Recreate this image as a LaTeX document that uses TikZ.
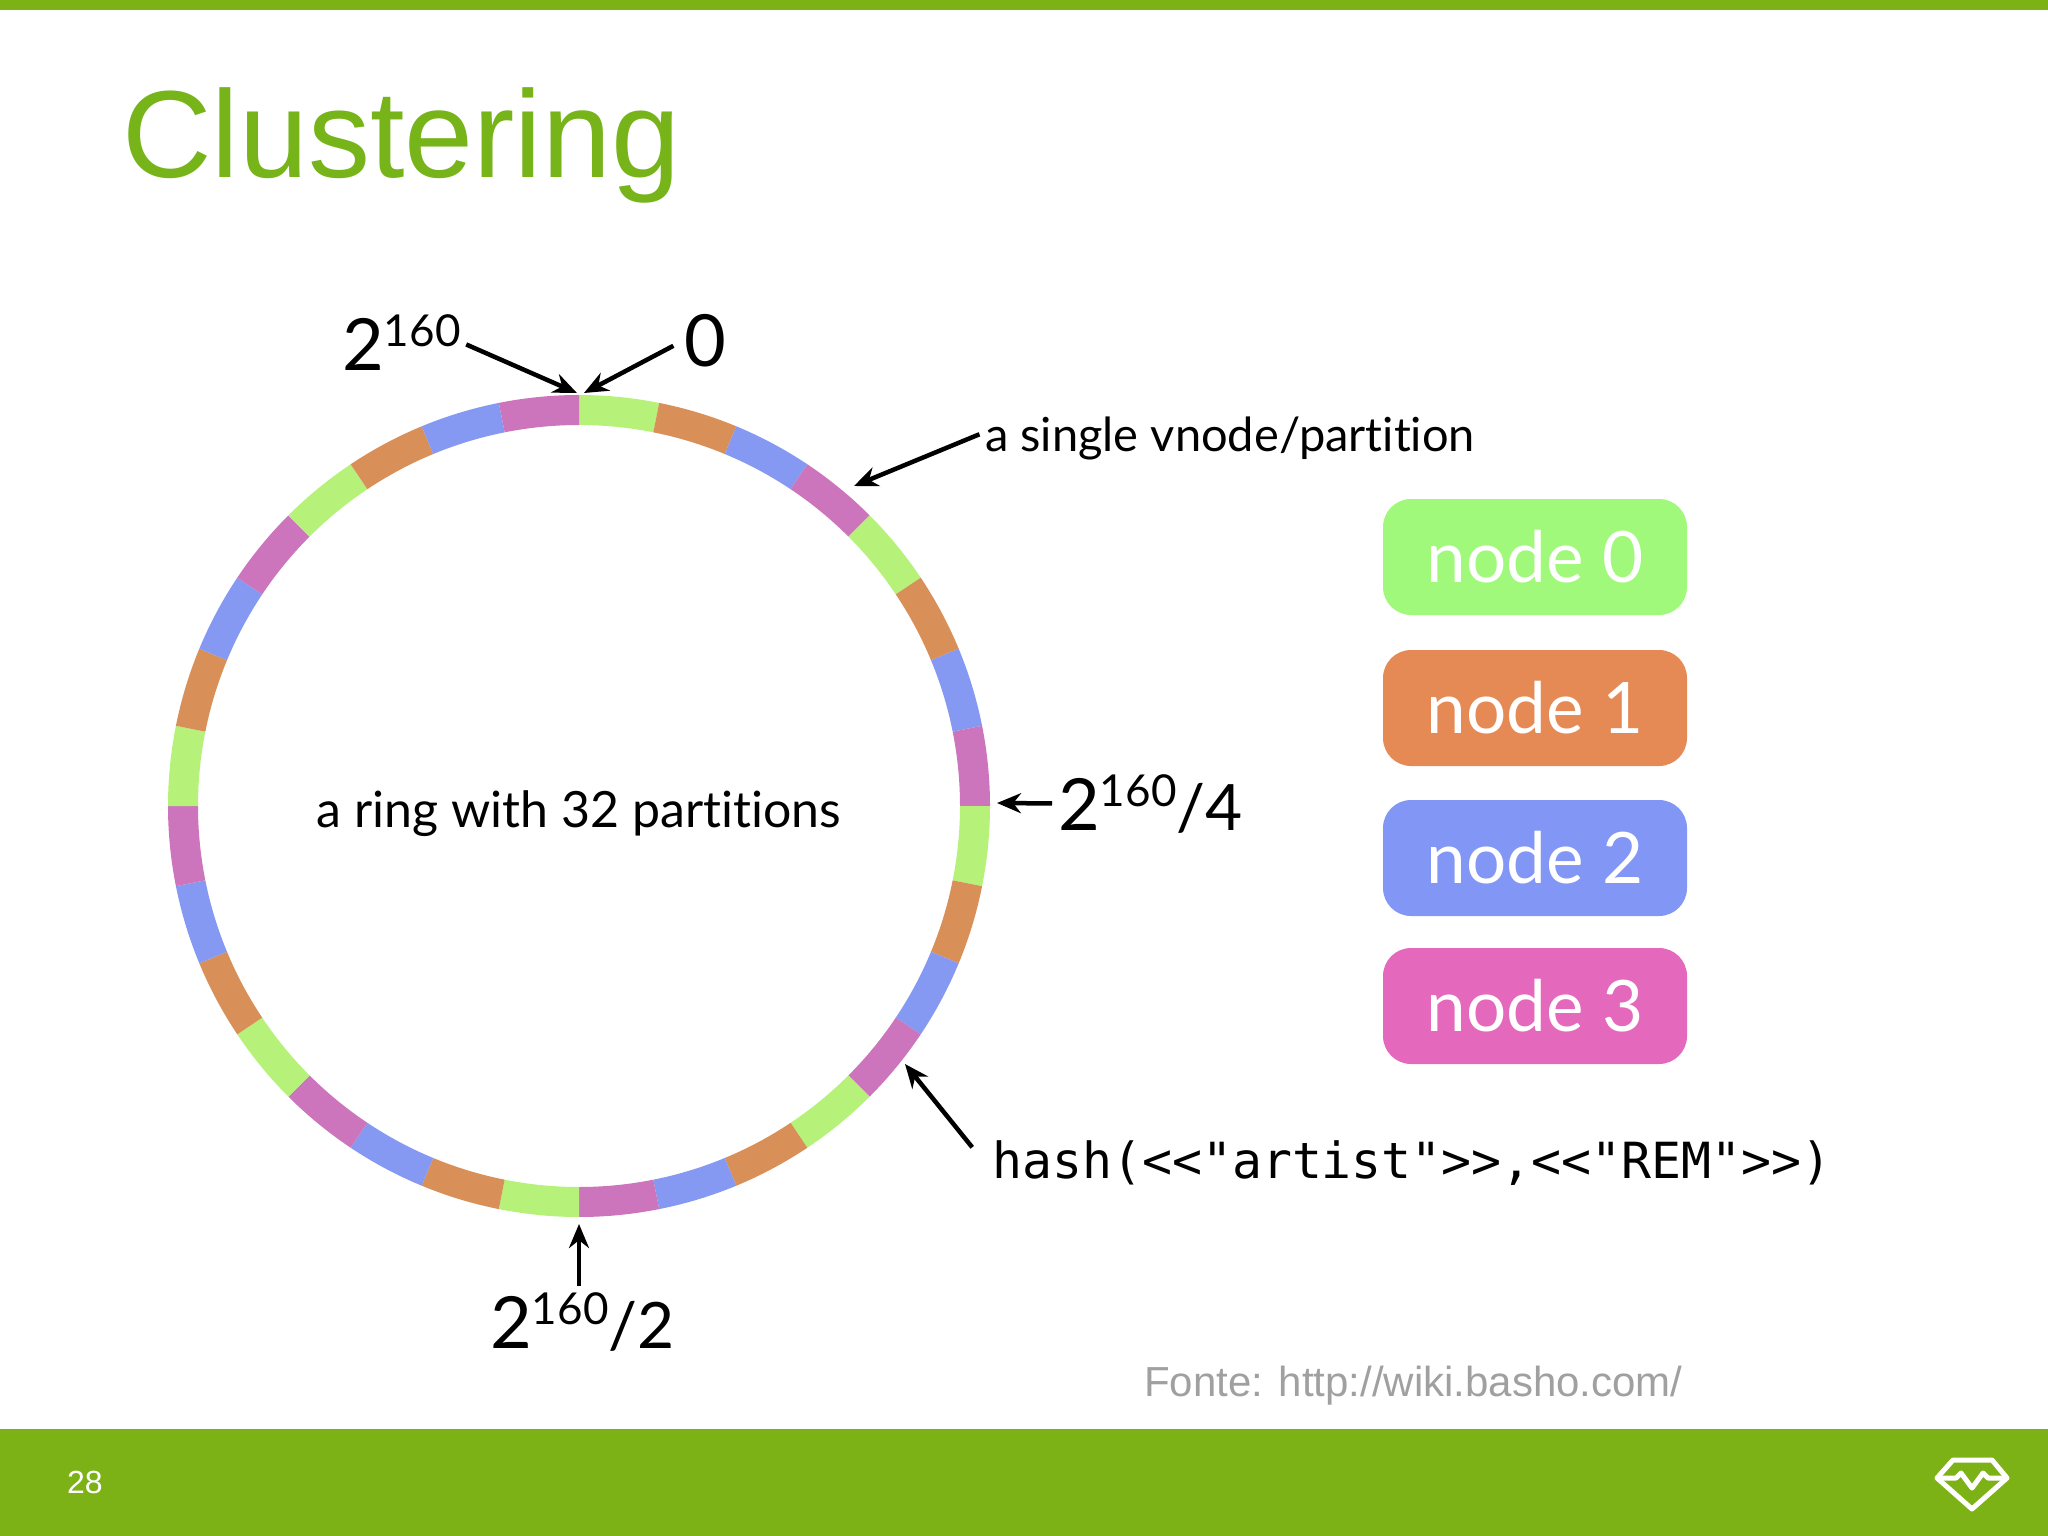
\documentclass[tikz,border=0pt]{standalone}
\usepackage{fontspec}
\usepackage{xcolor}
\usetikzlibrary{arrows.meta,calc}
\setmainfont[Ligatures=NoCommon]{Lato}
\newfontfamily\slidefont{Liberation Sans}
\newfontfamily\hashfont{DejaVu Sans Mono}
\definecolor{slidegreen}{HTML}{7CB215}
\definecolor{titlegreen}{HTML}{76B41A}
\definecolor{sourcegray}{HTML}{A0A0A0}
\definecolor{ringa}{HTML}{B6F27A}
\definecolor{ringb}{HTML}{D99058}
\definecolor{ringc}{HTML}{8599F2}
\definecolor{ringd}{HTML}{CC74BC}
\definecolor{boxa}{HTML}{A0F97A}
\definecolor{boxb}{HTML}{E68A55}
\definecolor{boxc}{HTML}{8296F5}
\definecolor{boxd}{HTML}{E468BC}
\newcommand{\bigpow}{{\fontsize{72}{72}\selectfont 2\raisebox{24pt}{\fontsize{44}{44}\selectfont 160}}}
\tikzset{
	caption/.style={inner sep=0pt,anchor=base west,text=black},
	pointer/.style={line width=4.5pt,-{Stealth[length=24pt,width=20pt]},shorten <=6pt},
	legend/.style={rounded corners=28pt,minimum width=304pt,minimum height=116pt,inner sep=0pt,text=white,font=\fontsize{71}{71}\selectfont}
}
\begin{document}
\begin{tikzpicture}[x=1pt,y=-1pt]
	\useasboundingbox (0,0) rectangle (2048,1536);
	\fill[slidegreen] (0,0) rectangle (2048,10);
	\fill[slidegreen] (0,1429) rectangle (2048,1536);
	\node[caption,text=titlegreen,font=\slidefont\fontsize{124}{124}\selectfont] (title) at (122,177) {Clustering};
	\foreach \i/\c in {0/ringa,1/ringb,2/ringc,3/ringd,4/ringa,5/ringb,6/ringc,7/ringd,8/ringa,9/ringb,10/ringc,11/ringd,12/ringa,13/ringb,14/ringc,15/ringd,16/ringa,17/ringb,18/ringc,19/ringd,20/ringa,21/ringb,22/ringc,23/ringd,24/ringa,25/ringb,26/ringc,27/ringd,28/ringa,29/ringb,30/ringc,31/ringd}
	{
		\pgfmathsetmacro{\from}{-90+\i*11.25}
		\pgfmathsetmacro{\to}{\from+11.25}
		\fill[\c,shift={(579,806)}] (\from:411) arc[start angle=\from,end angle=\to,radius=411] -- (\to:381) arc[start angle=\to,end angle=\from,radius=381] -- cycle;
	}
	\coordinate (topleft) at (577,393);
	\coordinate (topright) at (584,393);
	\coordinate (vnode) at (854,486);
	\coordinate (quarter) at (997,803);
	\coordinate (hashed) at (905,1064);
	\coordinate (half) at (579,1224);
	\node[caption] (powtop) at (342,370) {\bigpow};
	\node[caption,font=\fontsize{72}{72}\selectfont] (zero) at (684,366) {0};
	\node[caption,font=\fontsize{47}{47}\selectfont] (single) at (985,451) {a single vnode/partition};
	\node[caption,anchor=base,font=\fontsize{50}{50}\selectfont] (ring) at (579,827) {a ring with 32 partitions};
	\node[caption] (powquarter) at (1058,830) {\bigpow{\fontsize{64}{64}\selectfont/4}};
	\node[caption,font=\hashfont\fontsize{49.8}{50}\selectfont] (hash) at (992,1178) {hash(<<"artist">>,<<"REM">>)};
	\node[caption] (powhalf) at (490,1348) {\bigpow{\fontsize{64}{64}\selectfont/2}};
	\node[caption,text=sourcegray,font=\slidefont\fontsize{42}{42}\selectfont] (source) at (1144,1396) {Fonte: http://wiki.basho.com/};
	\node[caption,text=white,font=\slidefont\fontsize{32}{32}\selectfont] (page) at (67,1493) {28};
	\draw[pointer] (powtop.east) -- (topleft);
	\draw[pointer,shorten <=12pt] (zero.west) -- (topright);
	\draw[pointer] ($(single.west)+(0,-6)$) -- (vnode);
	\draw[pointer] (powquarter.west) -- (quarter);
	\draw[pointer] ($(hash.north west)+(-16,12)$) -- (hashed);
	\draw[pointer] (half |- powhalf.north) -- (half);
	\node[legend,fill=boxa] (node0) at (1535,557) {node 0};
	\node[legend,fill=boxb] (node1) at (1535,708) {node 1};
	\node[legend,fill=boxc] (node2) at (1535,858) {node 2};
	\node[legend,fill=boxd] (node3) at (1535,1006) {node 3};
	\draw[white,line width=5pt,line join=round] (1937,1478) -- (1953,1460) -- (1992,1460) -- (2007,1478) -- (1972,1509) -- cycle;
	\draw[white,line width=5pt,line join=round] (1937,1478) -- (1956,1478) -- (1961,1473) -- (1972,1488) -- (1983,1473) -- (1988,1478) -- (2007,1478);
\end{tikzpicture}
\end{document}
